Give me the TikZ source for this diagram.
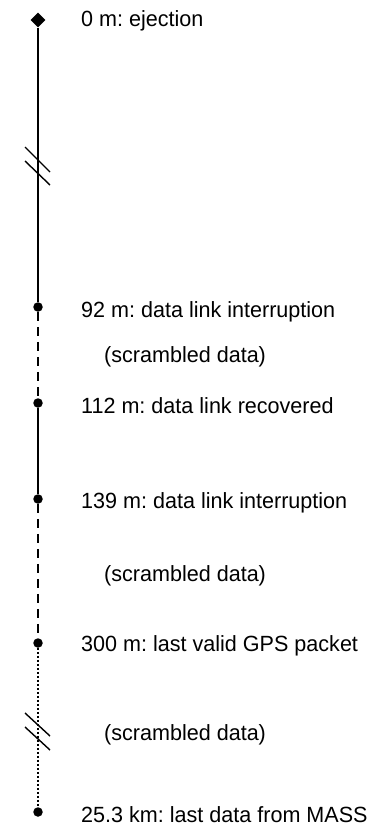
\documentclass[tikz,border=0pt]{standalone}
\usepackage{fontspec}
\setmainfont[FakeStretch=0.98]{Liberation Sans}
\usetikzlibrary{shapes.geometric}
\frenchspacing
\begin{document}
\begin{tikzpicture}[x=1pt,y=-1pt,
  lbl/.style={anchor=west,inner sep=0pt,font=\fontsize{22}{26}\selectfont},
  dotnode/.style={circle,fill=black,inner sep=0pt,minimum size=9.5pt},
  diam/.style={diamond,fill=black,inner sep=0pt,minimum size=15pt},
  seg/.style={line width=1.8pt},
  brk/.style={line width=1.4pt}]
\useasboundingbox (0,0) rectangle (372,827);
\node[diam] (p0) at (38,20) {};
\node[dotnode] (p1) at (38,307) {};
\node[dotnode] (p2) at (38,403) {};
\node[dotnode] (p3) at (38,499) {};
\node[dotnode] (p4) at (38,643) {};
\node[dotnode] (p5) at (38,812) {};
\draw[seg] (p0) -- (p1);
\draw[seg,dash pattern=on 9pt off 6pt] (p1) -- (p2);
\draw[seg] (p2) -- (p3);
\draw[seg,dash pattern=on 9pt off 6pt] (p3) -- (p4);
\draw[line width=1.6pt,dash pattern=on 1.6pt off 2.4pt] (p4) -- (p5);
% break marks
\draw[brk] (25,147) -- (50,172);
\draw[brk] (25,161) -- (50,185);
\draw[brk] (25,713) -- (50,736);
\draw[brk] (25,727) -- (50,750);
\node[lbl] (t0) at (81,21) {0 m: ejection};
\node[lbl] (t1) at (81,312) {92 m: data link interruption};
\node[lbl] (s1) at (104,357) {(scrambled data)};
\node[lbl] (t2) at (81,406) {112 m: data link recovered};
\node[lbl] (t3) at (81,503) {139 m: data link interruption};
\node[lbl] (s2) at (104,576) {(scrambled data)};
\node[lbl] (t4) at (81,646) {300 m: last valid GPS packet};
\node[lbl] (s3) at (104,735) {(scrambled data)};
\node[lbl] (t5) at (81,815) {25.3 km: last data from MASS};
\end{tikzpicture}
\end{document}
